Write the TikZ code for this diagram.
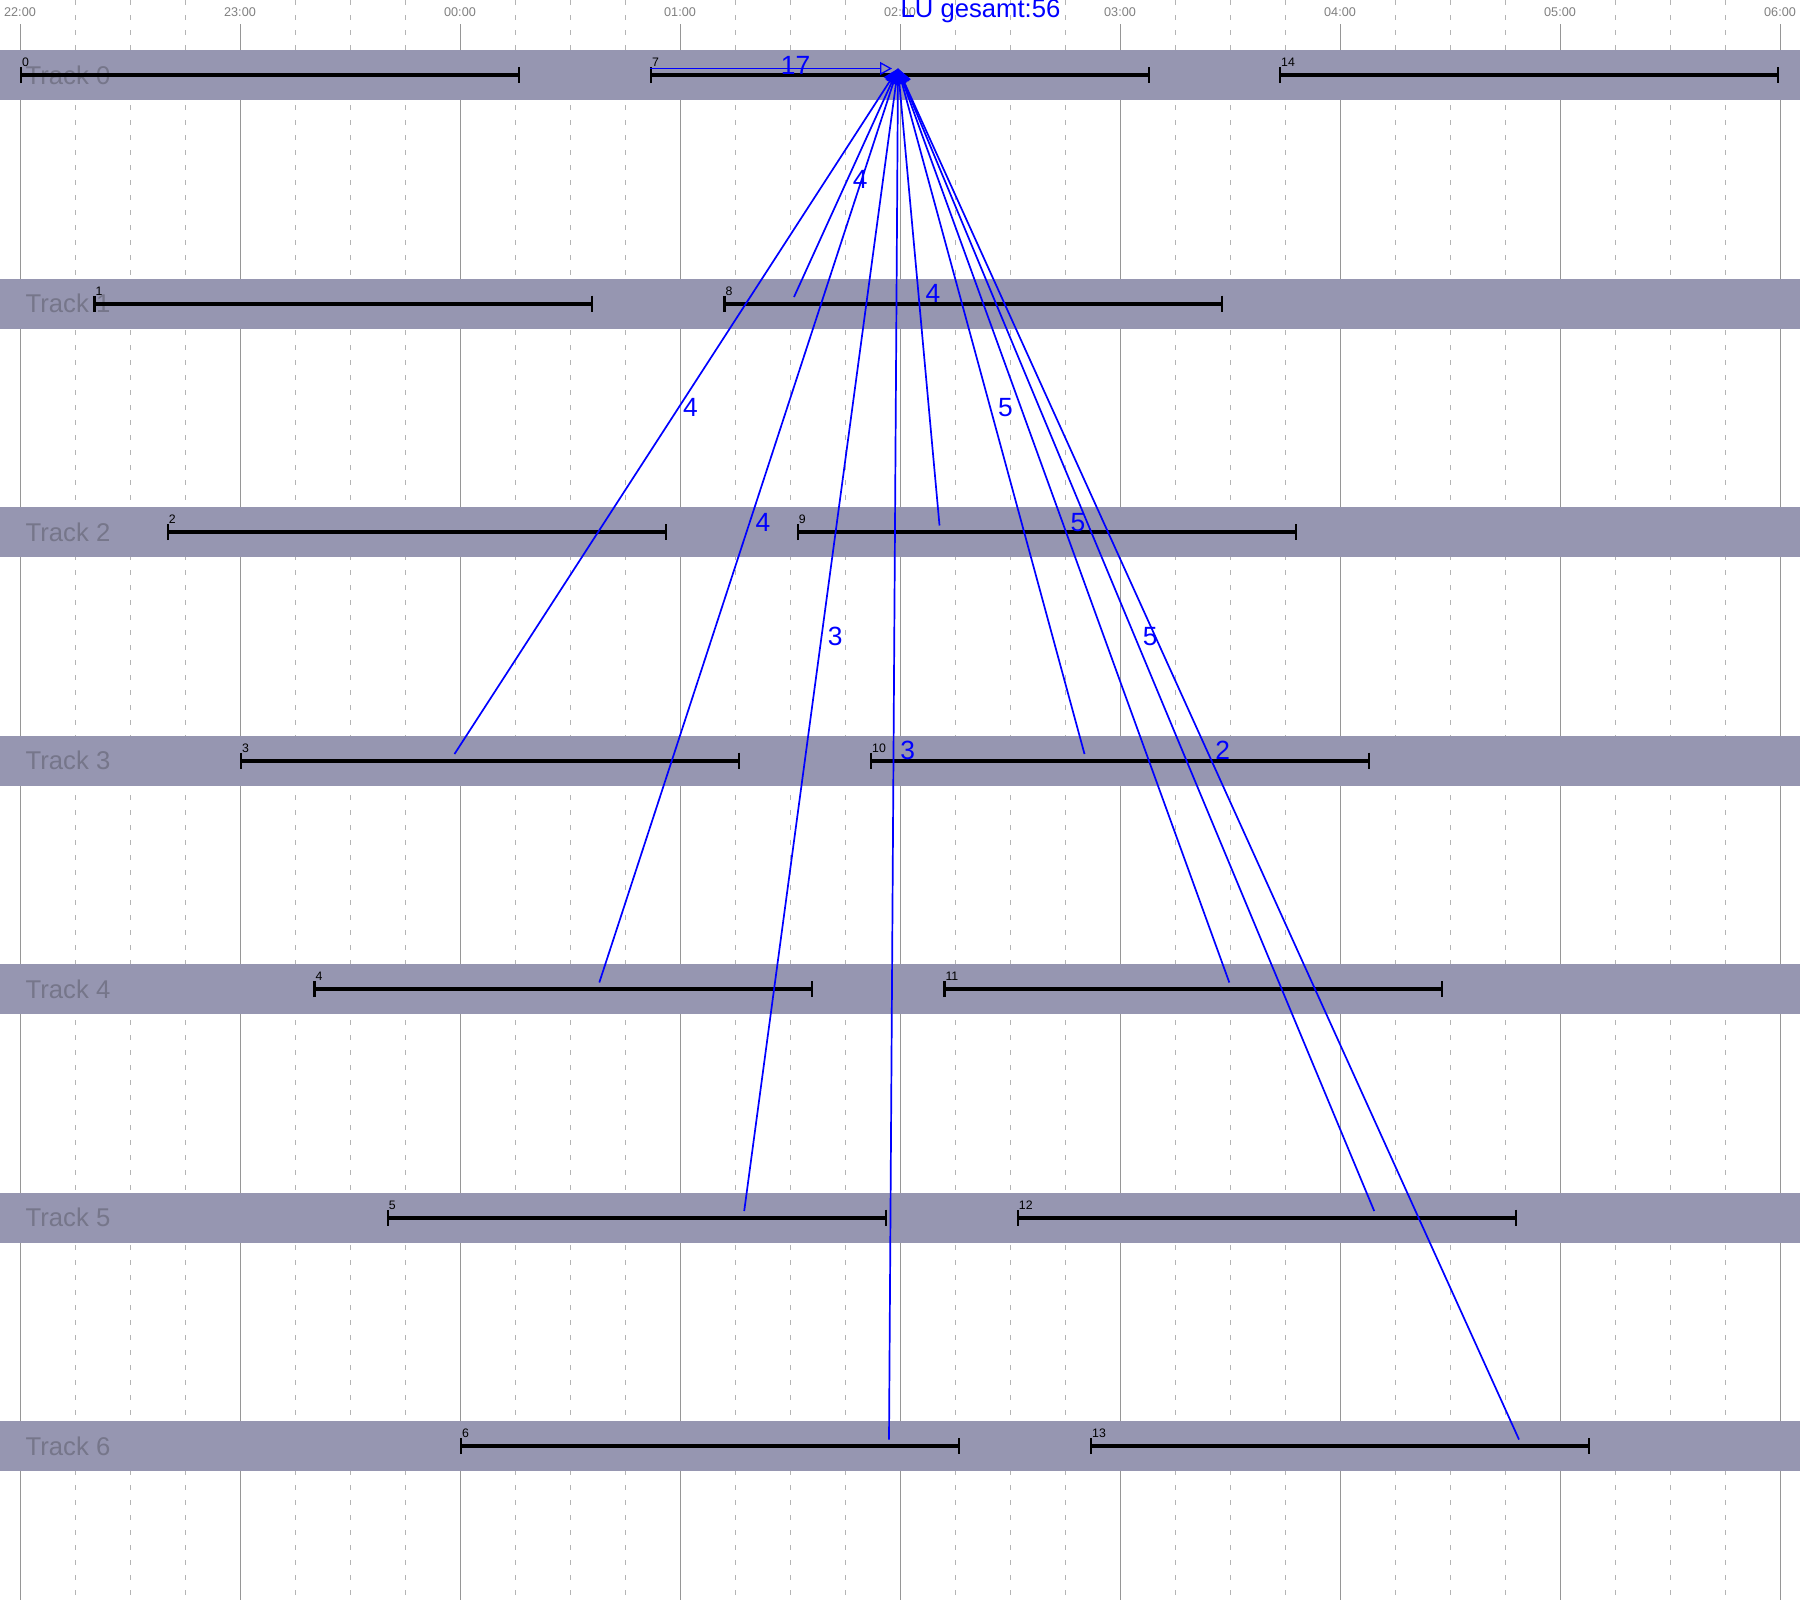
\documentclass[tikz,border=0pt]{standalone}
\usepackage{fontspec}
\setmainfont{Liberation Sans}
\usepackage{xcolor}
\usepackage{tikz}
\usetikzlibrary{arrows.meta}
\definecolor{trackband}{RGB}{150,150,177}
\definecolor{tracktext}{RGB}{118,118,138}
\definecolor{gridhour}{RGB}{150,150,150}
\definecolor{gridquarter}{RGB}{180,180,180}

\begin{document}
\begin{tikzpicture}[
  x=0.1mm, y=-0.1mm,
  hourline/.style={draw=gridhour, line width=0.1mm},
  quarterline/.style={draw=gridquarter, line width=0.1mm, dash pattern=on 0.45mm off 1.05mm},
  band/.style={fill=trackband},
  tracklabel/.style={anchor=west, inner sep=0pt, text=tracktext, font=\fontsize{7.3}{8}\selectfont},
  timelabel/.style={anchor=base, inner sep=0pt, text=gridhour!85!black, font=\fontsize{3.6}{4}\selectfont},
  run/.style={line width=0.4mm, {Bar[width=1.6mm, line width=0.22mm]}-{Bar[width=1.6mm, line width=0.22mm]}},
  runlabel/.style={anchor=base west, inner sep=0pt, font=\fontsize{3.5}{4}\selectfont},
  flow/.style={draw=blue, line width=0.17mm, -{Triangle[length=1.5mm, width=1.4mm]}},
  count/.style={anchor=base west, inner sep=0pt, xshift=0.6mm, yshift=-0.57mm, text=blue,
    font=\fontsize{7.5}{8}\selectfont}
]
  \useasboundingbox (0,0) rectangle (1800,1600);

  \foreach \h in {0,...,7}
    \foreach \q in {1,2,3}
      \draw[quarterline] (20+220*\h+55*\q, 0) -- ++(0,1600);
  \foreach \h in {0,...,8}
    \draw[hourline] (20+220*\h, 24) -- (20+220*\h, 1600);
  \foreach \h/\t in {0/22:00,1/23:00,2/00:00,3/01:00,4/02:00,5/03:00,6/04:00,7/05:00,8/06:00}
    \node[timelabel] (time\h) at (20+220*\h, 16) {\t};

  \fill[band] (0,50) rectangle (1800,100);
  \fill[band] (0,278.5) rectangle (1800,328.5);
  \fill[band] (0,507) rectangle (1800,557);
  \fill[band] (0,735.5) rectangle (1800,785.5);
  \fill[band] (0,964) rectangle (1800,1014);
  \fill[band] (0,1192.5) rectangle (1800,1242.5);
  \fill[band] (0,1421) rectangle (1800,1471);
  \node[tracklabel] (track0) at (25,75) {Track 0};
  \node[tracklabel] (track1) at (25,303.5) {Track 1};
  \node[tracklabel] (track2) at (25,532) {Track 2};
  \node[tracklabel] (track3) at (25,760.5) {Track 3};
  \node[tracklabel] (track4) at (25,989) {Track 4};
  \node[tracklabel] (track5) at (25,1217.5) {Track 5};
  \node[tracklabel] (track6) at (25,1446) {Track 6};

  \draw[run] (20,75) -- ++(500,0);
  \draw[run] (93.3,303.5) -- ++(500,0);
  \draw[run] (166.7,532) -- ++(500,0);
  \draw[run] (240,760.5) -- ++(500,0);
  \draw[run] (313.3,989) -- ++(500,0);
  \draw[run] (386.7,1217.5) -- ++(500,0);
  \draw[run] (460,1446) -- ++(500,0);
  \draw[run] (650,75) -- ++(500,0);
  \draw[run] (723.3,303.5) -- ++(500,0);
  \draw[run] (796.7,532) -- ++(500,0);
  \draw[run] (870,760.5) -- ++(500,0);
  \draw[run] (943.3,989) -- ++(500,0);
  \draw[run] (1016.7,1217.5) -- ++(500,0);
  \draw[run] (1090,1446) -- ++(500,0);
  \draw[run] (1279,75) -- ++(500,0);
  \node[runlabel] (run0) at (21.5,66.5) {0};
  \node[runlabel] (run1) at (94.8,295) {1};
  \node[runlabel] (run2) at (168.2,523.5) {2};
  \node[runlabel] (run3) at (241.5,752) {3};
  \node[runlabel] (run4) at (314.8,980.5) {4};
  \node[runlabel] (run5) at (388.2,1209) {5};
  \node[runlabel] (run6) at (461.5,1437.5) {6};
  \node[runlabel] (run7) at (651.5,66.5) {7};
  \node[runlabel] (run8) at (724.8,295) {8};
  \node[runlabel] (run9) at (798.2,523.5) {9};
  \node[runlabel] (run10) at (871.5,752) {10};
  \node[runlabel] (run11) at (944.8,980.5) {11};
  \node[runlabel] (run12) at (1018.2,1209) {12};
  \node[runlabel] (run13) at (1091.5,1437.5) {13};
  \node[runlabel] (run14) at (1280.5,66.5) {14};

  \coordinate (hub) at (898,68.5);
  \coordinate (from7) at (650,68.5);
  \coordinate (from8) at (794,297);
  \coordinate (from9) at (939.5,525.5);
  \coordinate (from3) at (454.5,754);
  \coordinate (from10) at (1084.5,754);
  \coordinate (from4) at (599.3,982.5);
  \coordinate (from11) at (1229.3,982.5);
  \coordinate (from5) at (744.2,1211);
  \coordinate (from12) at (1374.2,1211);
  \coordinate (from6) at (889,1439.5);
  \coordinate (from13) at (1519,1439.5);

  \draw[flow, -{Triangle[open, length=1.2mm, width=1.3mm, line width=0.13mm]}, shorten >=0.6mm]
    (from7) -- node[count] {17} (hub);
  \draw[flow] (from8) -- node[count] {4} (hub);
  \draw[flow] (from9) -- node[count] {4} (hub);
  \draw[flow] (from3) -- node[count] {4} (hub);
  \draw[flow] (from10) -- node[count] {5} (hub);
  \draw[flow] (from4) -- node[count] {4} (hub);
  \draw[flow] (from11) -- node[count] {5} (hub);
  \draw[flow] (from5) -- node[count] {3} (hub);
  \draw[flow] (from12) -- node[count] {5} (hub);
  \draw[flow] (from6) -- node[count] {3} (hub);
  \draw[flow] (from13) -- node[count] {2} (hub);

  \node[anchor=base west, inner sep=0pt, text=blue, font=\fontsize{7.3}{8}\selectfont]
    (total) at (900,17.5) {LU gesamt:56};
\end{tikzpicture}
\end{document}
